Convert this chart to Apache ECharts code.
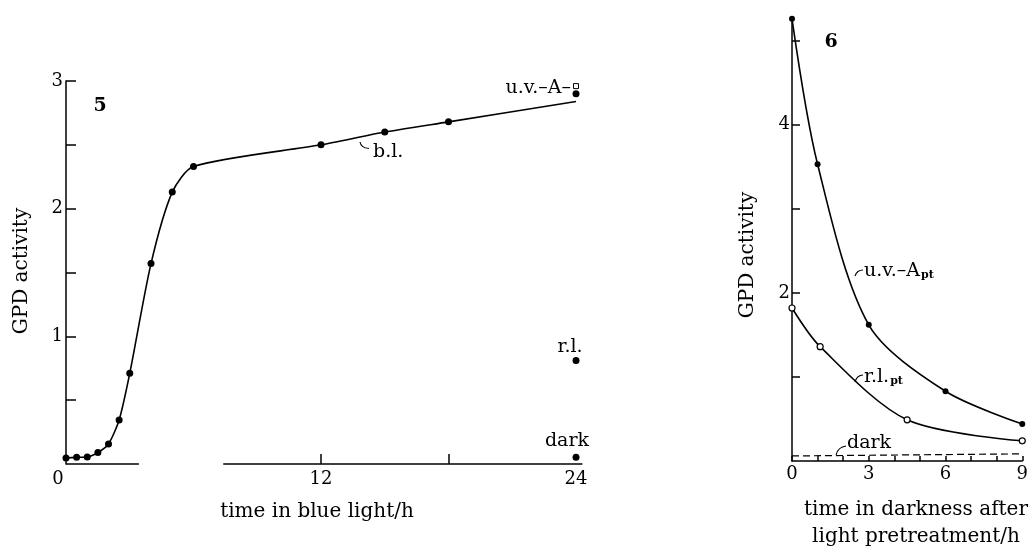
<!DOCTYPE html>
<html>
<head>
<meta charset="utf-8">
<script src="https://cdn.jsdelivr.net/npm/echarts@6/dist/echarts.min.js"></script>
<style>
  html, body { margin: 0; padding: 0; background: #fff; }
  #chart { width: 1031px; height: 547px; }
</style>
</head>
<body>
<div id="chart"></div>
<script>
// panel 5: GPD activity vs time in blue light (h)
const blueTimes = [0, 0.5, 1, 1.5, 2, 2.5, 3, 4, 5, 6, 12, 15, 18, 24];
const blueValues = [0.047, 0.052, 0.055, 0.09, 0.157, 0.345, 0.71, 1.57, 2.13, 2.33, 2.50, 2.60, 2.68, 2.90];
const blueLineEnd = 2.84;
const uvaPoint = [24, 2.96];
const redPoint = [24, 0.81];
const darkPoint = [24, 0.052];
const leftYTicks = [0.5, 1, 1.5, 2, 2.5, 3];
const leftYLabels = [1, 2, 3];
const leftXTicks = [12, 18];
const leftXLabels = [0, 12, 24];
// broken time axis
const axisSegA = [[0, 0], [3.43, 0]];
const axisSegB = [[7.4, 0], [24.3, 0]];

// panel 6: GPD activity vs time in darkness after pretreatment (h)
const uvaTimes = [0, 1, 3, 6, 9];
const uvaValues = [5.26, 3.53, 1.62, 0.83, 0.44];
const redTimes = [0, 1.1, 4.5, 9];
const redValues = [1.82, 1.36, 0.49, 0.24];
const darkLine = [[0, 0.06], [9, 0.085]];
const rightYTicks = [1, 2, 3, 4, 5];
const rightYLabels = [2, 4];
const rightXLabels = [0, 3, 6, 9];

const ink = '#000';
const font = 'DejaVu Serif';

const chart = echarts.init(document.getElementById('chart'));

function zip(xs, ys) {
    return xs.map(function (x, i) { return [x, ys[i]]; });
}

const blueLine = zip(blueTimes, blueValues.slice(0, -1).concat([blueLineEnd]));
const axisLineStyle = { color: ink, width: 1.5 };

const option = {
    animation: false,
    backgroundColor: '#fff',
    grid: [
        { left: 66, top: 81, width: 516.4, height: 383 },
        { left: 792, top: 18, width: 235, height: 443 }
    ],
    xAxis: [
        {
            gridIndex: 0, type: 'value', min: 0, max: 24.3,
            axisLine: { show: false },
            splitLine: { show: false },
            axisTick: { show: true, inside: true, length: 10, customValues: leftXTicks, lineStyle: axisLineStyle },
            axisLabel: {
                customValues: leftXLabels, margin: 6, color: ink, fontFamily: font, fontSize: 18,
                formatter: function (v) { return v === 0 ? '{z|0}' : String(v); },
                rich: { z: { padding: [0, 16, 0, 0], fontFamily: font, fontSize: 18, color: ink } }
            }
        },
        {
            gridIndex: 1, type: 'value', min: 0, max: 9, interval: 1,
            axisLine: { show: true, onZero: false, lineStyle: axisLineStyle },
            splitLine: { show: false },
            axisTick: { show: true, inside: true, length: 5, lineStyle: axisLineStyle },
            axisLabel: { customValues: rightXLabels, margin: 4, color: ink, fontFamily: font, fontSize: 18 }
        }
    ],
    yAxis: [
        {
            gridIndex: 0, type: 'value', min: 0, max: 3,
            axisLine: { show: true, lineStyle: axisLineStyle },
            splitLine: { show: false },
            axisTick: { show: true, inside: true, length: 10, customValues: leftYTicks, lineStyle: axisLineStyle },
            axisLabel: { customValues: leftYLabels, margin: 3, color: ink, fontFamily: font, fontSize: 18 }
        },
        {
            gridIndex: 1, type: 'value', min: 0, max: 5.27,
            axisLine: { show: true, lineStyle: axisLineStyle },
            splitLine: { show: false },
            axisTick: { show: true, inside: true, length: 8, customValues: rightYTicks, lineStyle: axisLineStyle },
            axisLabel: { customValues: rightYLabels, margin: 2, color: ink, fontFamily: font, fontSize: 18 }
        }
    ],
    series: [
        {
            name: 'axisA', type: 'line', xAxisIndex: 0, yAxisIndex: 0, data: axisSegA,
            symbol: 'none', clip: false, lineStyle: axisLineStyle, z: 1
        },
        {
            name: 'axisB', type: 'line', xAxisIndex: 0, yAxisIndex: 0, data: axisSegB,
            symbol: 'none', clip: false, lineStyle: axisLineStyle, z: 1
        },
        {
            name: 'b.l. curve', type: 'line', xAxisIndex: 0, yAxisIndex: 0, data: blueLine,
            smooth: 0.25, symbol: 'none', clip: false,
            lineStyle: { color: ink, width: 1.6 }
        },
        {
            name: 'b.l.', type: 'scatter', xAxisIndex: 0, yAxisIndex: 0, data: zip(blueTimes, blueValues),
            symbolSize: 7, clip: false, itemStyle: { color: ink, opacity: 1 }, z: 3
        },
        {
            name: 'u.v.-A', type: 'scatter', xAxisIndex: 0, yAxisIndex: 0, data: [uvaPoint],
            symbol: 'rect', symbolSize: 5, clip: false,
            itemStyle: { color: '#fff', borderColor: ink, borderWidth: 1, opacity: 1 }, z: 3
        },
        {
            name: 'r.l.', type: 'scatter', xAxisIndex: 0, yAxisIndex: 0, data: [redPoint, darkPoint],
            symbolSize: 7, clip: false, itemStyle: { color: ink, opacity: 1 }, z: 3
        },
        {
            name: 'u.v.-A pt', type: 'line', xAxisIndex: 1, yAxisIndex: 1, data: zip(uvaTimes, uvaValues),
            smooth: 0.3, symbol: 'circle', symbolSize: 6, showSymbol: true, clip: false,
            lineStyle: { color: ink, width: 1.6 }, itemStyle: { color: ink }
        },
        {
            name: 'r.l. pt', type: 'line', xAxisIndex: 1, yAxisIndex: 1, data: zip(redTimes, redValues),
            smooth: 0.3, symbol: 'circle', symbolSize: 6, showSymbol: true, clip: false,
            lineStyle: { color: ink, width: 1.6 },
            itemStyle: { color: '#fff', borderColor: ink, borderWidth: 1.2 }
        },
        {
            name: 'dark', type: 'line', xAxisIndex: 1, yAxisIndex: 1, data: darkLine,
            symbol: 'none', clip: false, lineStyle: { color: ink, width: 1.2, type: [7, 4] }
        }
    ],
    graphic: []
};

function text(x, y, str, opts) {
    return {
        type: 'text', x: x, y: y, silent: true,
        style: Object.assign({
            text: str, fill: ink, font: '19px "DejaVu Serif"',
            align: 'left', verticalAlign: 'middle'
        }, opts || {})
    };
}
function hook(x1, y1, cx, cy, x2, y2) {
    return {
        type: 'bezierCurve', silent: true,
        shape: { x1: x1, y1: y1, cpx1: cx, cpy1: cy, x2: x2, y2: y2 },
        style: { stroke: ink, lineWidth: 1.1, fill: null }
    };
}
const subRich = {
    a: { fontFamily: font, fontSize: 19, color: ink },
    s: { fontFamily: font, fontSize: 11, fontWeight: 'bold', color: ink, padding: [9, 0, 0, 1] }
};
const titleFont = '20px "DejaVu Serif"';

option.graphic = [
    text(100, 106, '5', { font: 'bold 19px "DejaVu Serif"', align: 'center' }),
    text(831, 42, '6', { font: 'bold 19px "DejaVu Serif"', align: 'center' }),
    Object.assign(text(22, 271, 'GPD activity', { align: 'center', font: titleFont }), { rotation: Math.PI / 2 }),
    Object.assign(text(748, 255, 'GPD activity', { align: 'center', font: titleFont }), { rotation: Math.PI / 2 }),
    text(317, 512, 'time in blue light/h', { align: 'center', font: titleFont }),
    text(916, 510, 'time in darkness after', { align: 'center', font: titleFont }),
    text(916, 537, 'light pretreatment/h', { align: 'center', font: titleFont }),
    text(373, 152, 'b.l.'),
    text(571, 88, 'u.v.–A–', { align: 'right' }),
    text(570, 347, 'r.l.', { align: 'center' }),
    text(567, 441, 'dark', { align: 'center' }),
    text(847, 443, 'dark'),
    {
        type: 'text', x: 864, y: 271, silent: true,
        style: { text: '{a|u.v.–A}{s|pt}', rich: subRich, verticalAlign: 'middle', align: 'left' }
    },
    {
        type: 'text', x: 864, y: 377, silent: true,
        style: { text: '{a|r.l.}{s|pt}', rich: subRich, verticalAlign: 'middle', align: 'left' }
    },
    hook(360, 142, 361, 148, 369, 148.5),
    hook(855, 276, 857, 270, 863, 270),
    hook(855, 382, 857, 375, 863, 375),
    hook(836, 455, 838, 447, 846, 446)
];

chart.setOption(option);
</script>
</body>
</html>
